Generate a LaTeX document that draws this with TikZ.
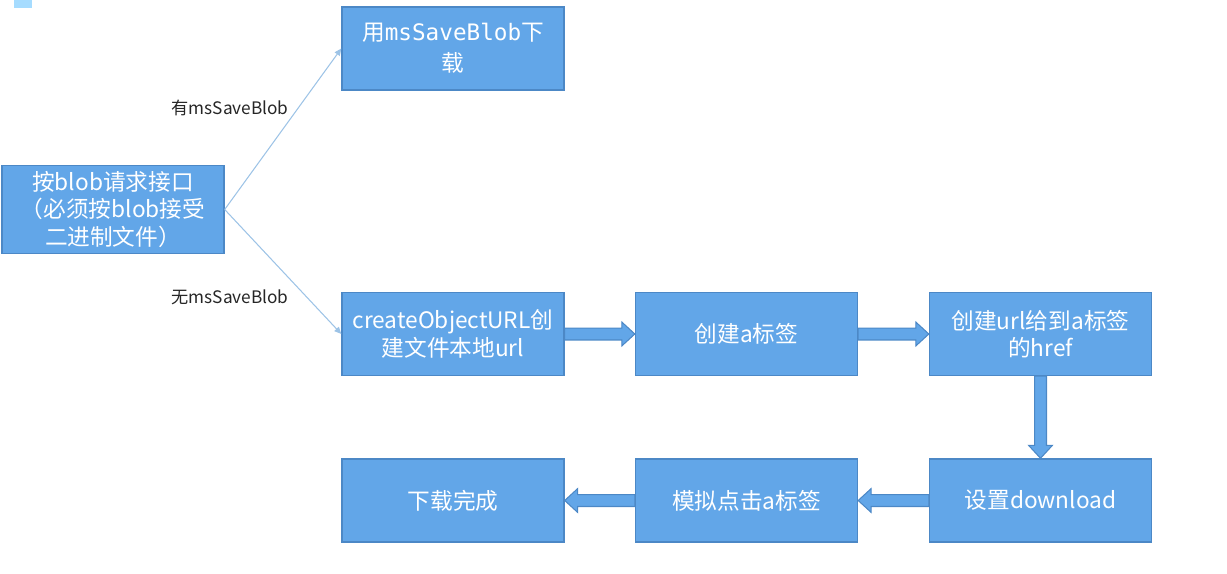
\documentclass[tikz,border=0pt]{standalone}
\usepackage{fontspec}
\setmainfont{Noto Sans CJK SC}
\newfontfamily\codefont{DejaVu Sans Mono}
\usetikzlibrary{arrows.meta,calc}
\definecolor{boxfill}{HTML}{62A6E8}
\definecolor{boxline}{HTML}{4C88C6}
\definecolor{linkblue}{HTML}{9DC3E6}
\definecolor{cornermark}{HTML}{A6DCFF}

% block arrow between two named anchors, #3 = direction angle
\newcommand{\fatarrow}[3]{%
  \path[fatarrow] let \p1=(#1), \p2=(#2), \n1={veclen(\x2-\x1,\y2-\y1)} in
    [shift={(\p1)}, rotate=#3]
    (0pt,3.4pt) -- (\n1-7.4pt,3.4pt) -- (\n1-7.4pt,6.8pt) -- (\n1,0pt)
    -- (\n1-7.4pt,-6.8pt) -- (\n1-7.4pt,-3.4pt) -- (0pt,-3.4pt) -- cycle;}

\begin{document}
\begin{tikzpicture}[x=0.02cm, y=-0.02cm,
  stepbox/.style={draw=boxline, fill=boxfill, line width=0.8pt,
    minimum width=4.44cm, minimum height=1.66cm, align=center,
    text=white, font=\fontsize{12.9}{15.6}\selectfont},
  fatarrow/.style={fill=boxfill, draw=boxline, line width=0.6pt},
  link/.style={draw=linkblue, line width=0.6pt, -{Triangle[length=4pt,width=3.5pt]}},
  linklabel/.style={font=\fontsize{9.8}{12}\selectfont, text=black!85}]
  \useasboundingbox (0,0) rectangle (1227,574);
  \fill[cornermark] (14,0) rectangle (32,8);

  % ======= start and IE branch =======
  \node[stepbox] (start) at (113,209.5) {按blob请求接口\\（必须按blob接受\\二进制文件）};
  \node[stepbox] (mssave) at (453,48.5) {用{\codefont msSaveBlob}下\\[2pt]载};

  % ======= url branch =======
  \node[stepbox] (objurl) at (453,334) {createObjectURL创\\建文件本地url};
  \node[stepbox] (mktag) at (746.5,334) {创建a标签};
  \node[stepbox] (sethref) at (1040.5,334) {创建url给到a标签\\的href};
  \node[stepbox] (setdl) at (1040.5,500.5) {设置download};
  \node[stepbox] (click) at (746.5,500.5) {模拟点击a标签};
  \node[stepbox] (done) at (453,500.5) {下载完成};

  % thin connectors
  \draw[link] (start.east) -- (mssave.west);
  \draw[link] (start.east) -- (objurl.west);
  \node[linklabel] (haslbl) at (230,108) {有msSaveBlob};
  \node[linklabel] (nolbl) at (230,297) {无msSaveBlob};

  % block arrows
  \fatarrow{objurl.east}{mktag.west}{0}
  \fatarrow{mktag.east}{sethref.west}{0}
  \fatarrow{sethref.south}{setdl.north}{-90}
  \fatarrow{setdl.west}{click.east}{180}
  \fatarrow{click.west}{done.east}{180}
\end{tikzpicture}
\end{document}
